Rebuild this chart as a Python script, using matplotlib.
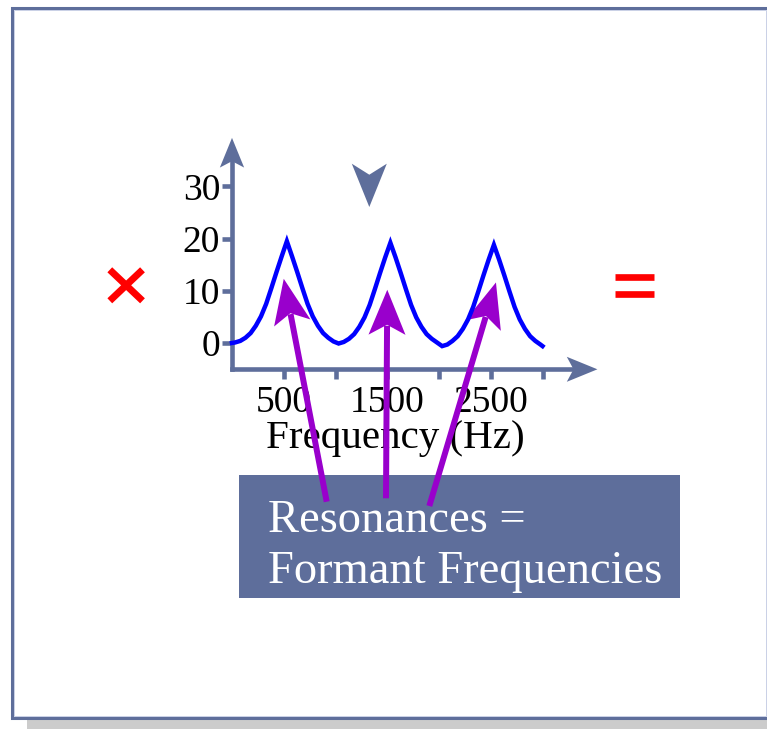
import matplotlib
matplotlib.use('Agg')
import matplotlib.pyplot as plt
from matplotlib import transforms as mtransforms
from matplotlib.patches import Rectangle, Polygon
from matplotlib.lines import Line2D
import numpy as np

# ---------------- data ----------------
freqs = [0, 30, 80, 130, 180, 230, 280, 330, 380, 430, 480, 530, 580, 630, 680, 730, 780, 830, 880, 930, 980,
         1030, 1080, 1130, 1180, 1230, 1280, 1330, 1380, 1430, 1480, 1530, 1580, 1630, 1680, 1730, 1780, 1830, 1880, 1930, 1980,
         2030, 2080, 2130, 2180, 2230, 2280, 2330, 2380, 2430, 2480, 2530, 2580, 2630, 2680, 2730, 2780, 2830, 2880, 2930, 2980,
         3000]
levels = [0.0,
          0.1, 0.4, 1.0, 1.9, 3.3, 5.1, 7.5, 10.5, 13.6, 16.6, 19.5, 16.6, 13.6, 10.5, 7.5, 5.1, 3.3, 1.9, 1.0, 0.3,
          -0.1, 0.2, 0.8, 1.7, 3.1, 4.9, 7.3, 10.3, 13.4, 16.4, 19.2, 16.4, 13.4, 10.3, 7.3, 4.9, 3.1, 1.7, 0.8, 0.1,
          -0.6, -0.3, 0.4, 1.3, 2.7, 4.5, 6.9, 9.9, 13.0, 16.0, 18.8, 16.0, 13.0, 9.9, 6.9, 4.5, 2.7, 1.3, 0.4, -0.3,
          -0.6]
x_ticks = [500, 1000, 1500, 2000, 2500, 3000]
x_tick_labels = ['500', '', '1500', '', '2500', '']
y_ticks = [0, 10, 20, 30]
y_tick_labels = ['0', '10', '20', '30']
x_label = 'Frequency (Hz)'
box_lines = ['Resonances =', 'Formant Frequencies']
arrow_targets = [(500, 12.3), (1500, 10.2), (2550, 11.6)]

# ---------------- style ----------------
SLATE = '#5e6e9b'
PURPLE = '#9900cc'
BLUE = '#0000ff'
RED = '#ff0000'
plt.rcParams['font.family'] = ['Liberation Serif', 'DejaVu Serif']

fig = plt.figure(figsize=(7.67, 7.29), dpi=100)
fig.patch.set_facecolor('white')
# pixel coordinates measured from the top-left corner
pix = mtransforms.Affine2D().scale(1 / 100, -1 / 100).translate(0, 7.29) + fig.dpi_scale_trans

# slide frame and shadow
fig.patches.append(Rectangle((27, 719), 745, 12, transform=pix, facecolor='#cccccc', edgecolor='none'))
fig.patches.append(Rectangle((11.5, 7.5), 756, 710, transform=pix, fill=False, edgecolor=SLATE, lw=2.2))
fig.patches.append(Rectangle((13.6, 9.6), 752, 706, transform=pix, fill=False, edgecolor='#c9d0e6', lw=0.7))

# main axes
ax = fig.add_axes([232 / 767, 1 - 369.3 / 729, 341.6 / 767, 214.2 / 729])
ax.set_xlim(0, 3300)
ax.set_ylim(-5.04, 36)
ax.patch.set_visible(False)
for s in ['top', 'right']:
    ax.spines[s].set_visible(False)
for s in ['left', 'bottom']:
    ax.spines[s].set_color(SLATE)
    ax.spines[s].set_linewidth(3.3)

ax.plot(freqs, levels, color=BLUE, lw=3.2, solid_joinstyle='miter', zorder=4, clip_on=False)

ax.set_xticks(x_ticks, x_tick_labels)
ax.set_yticks(y_ticks, y_tick_labels)
ax.tick_params(axis='both', direction='out', length=7.3, width=3.3, color=SLATE,
               labelsize=27, labelcolor='black')
ax.tick_params(axis='x', pad=4.5)
ax.tick_params(axis='y', pad=1.2)

ax.set_xlabel(x_label, fontsize=29.5)
ax.xaxis.set_label_coords(395, 448, transform=pix)
ax.xaxis.label.set_va('baseline')


def to_pix(pt):
    return pix.inverted().transform(ax.transData.transform(pt))


def stealth(tip, direction, L, Wd, notch):
    t = np.asarray(tip, float)
    d = np.asarray(direction, float)
    d = d / np.hypot(*d)
    n = np.array([-d[1], d[0]])
    return np.array([t, t - L * d + Wd / 2 * n, t - (L - notch) * d, t - L * d - Wd / 2 * n])


def add_poly(pts, color, z):
    p = Polygon(pts, closed=True, transform=pix, facecolor=color, edgecolor='none', zorder=z)
    ax.add_artist(p)
    p.set_clip_on(False)


# axis arrowheads
add_poly(stealth(to_pix((0, 39.3)), (0, -1), 29.7, 24.3, 6.4), SLATE, 3)
add_poly(stealth(to_pix((3530, -5.04)), (1, 0), 30.6, 25, 6.7), SLATE, 3)
# downward marker arrowhead
add_poly(stealth((369.3, 207), (0, 1), 43.3, 35, 11), SLATE, 3)

# label box
box = Rectangle((239, 475), 441, 123, transform=pix, facecolor=SLATE, edgecolor='none', zorder=1.5)
ax.add_artist(box)
box.set_clip_on(False)
ax.text(268, 532, box_lines[0], transform=pix, color='white', fontsize=33.5, ha='left', va='baseline', zorder=2)
ax.text(268, 583, box_lines[1], transform=pix, color='white', fontsize=33.5, ha='left', va='baseline', zorder=2)

# purple arrows from the box to the resonance peaks
tails = [(326.7, 501.7), (386.0, 498.3), (429.3, 506.0)]
for tail, target in zip(tails, arrow_targets):
    tip = to_pix(target)
    d = np.asarray(tip) - np.asarray(tail)
    d = d / np.hypot(*d)
    end = np.asarray(tip) - 36 * d
    ln = Line2D([tail[0], end[0]], [tail[1], end[1]], transform=pix, color=PURPLE, lw=4.3,
                solid_capstyle='butt', zorder=3.5)
    ax.add_artist(ln)
    ln.set_clip_on(False)
    add_poly(stealth(tip, d, 45, 37, 10), PURPLE, 3.5)

# red multiplication and equals signs
for xs, ys in [([109.8, 142.5], [269.8, 300.8]), ([109.8, 142.5], [300.8, 269.8])]:
    fig.add_artist(Line2D(xs, ys, transform=pix, color=RED, lw=5, solid_capstyle='butt'))
for yy in [277.3, 294.2]:
    fig.add_artist(Line2D([615, 654.3], [yy, yy], transform=pix, color=RED, lw=4.8, solid_capstyle='butt'))

fig.savefig('out.png', dpi=100)
